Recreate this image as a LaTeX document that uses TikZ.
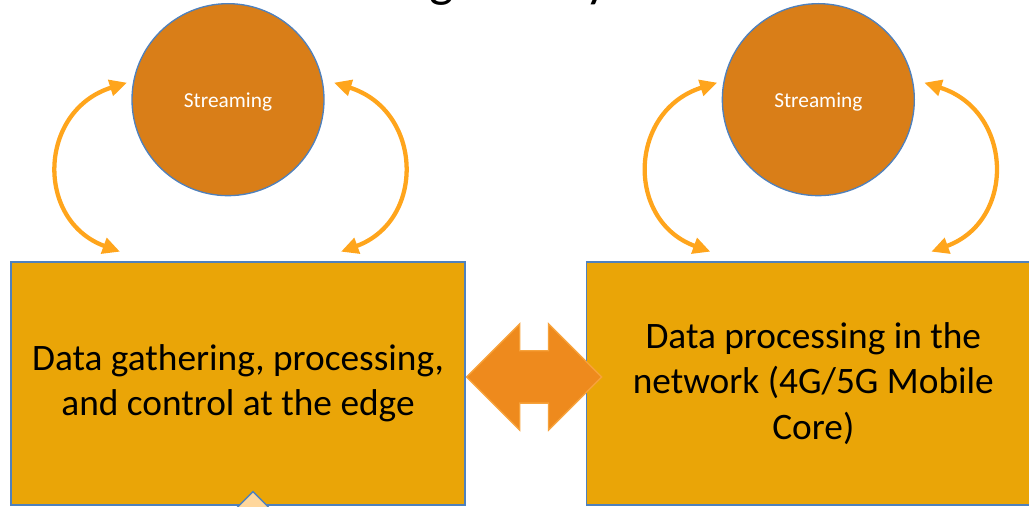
\documentclass[tikz,border=0pt]{standalone}
\usepackage{fontspec}
\setmainfont{Carlito}
\usetikzlibrary{positioning,shapes.arrows,arrows.meta}
\definecolor{boxfill}{HTML}{EAA507}
\definecolor{ballfill}{HTML}{D97E18}
\definecolor{rim}{HTML}{4F81BD}
\definecolor{arcorange}{HTML}{FFA51C}
\definecolor{linkfill}{HTML}{EE8A1D}
\definecolor{linkrim}{HTML}{F7A23A}
\definecolor{tipfill}{HTML}{FFD79C}
\tikzset{
	stage/.style={draw=rim,line width=1pt,fill=boxfill,minimum width=340.5pt,minimum height=182.25pt,align=center,font=\fontsize{28}{34}\selectfont},
	feed/.style={circle,draw=rim,line width=1pt,fill=ballfill,minimum size=144pt,inner sep=0pt,text depth=0pt,text=white,font=\fontsize{16}{19}\selectfont},
	feedarc/.style={arcorange,line width=3.2pt,{Triangle[length=13pt,width=12pt]}-{Triangle[length=13pt,width=12pt]}},
	twoway/.style={double arrow,draw=linkrim,line width=1pt,fill=linkfill,minimum height=101.25pt,minimum width=78.75pt,double arrow head extend=20.25pt,inner xsep=0pt,inner ysep=19.1pt}
}
\begin{document}
\begin{tikzpicture}[x=0.75pt,y=0.75pt]
		\useasboundingbox (0,0) rectangle (1029,507);
		\clip (0,0) rectangle (1029,507);
		\node [font=\fontsize{39}{47}\selectfont,anchor=base] (title) at (529,510) {Edge Analytics};
		\node [stage] (edge) at (238,123.5) {Data gathering, processing,\\and control at the edge};
		\node [stage,right=90pt of edge] (core) {Data processing in the\\network (4G/5G Mobile\\Core)};
		\node [feed,above=48.75pt of edge,xshift=-7.5pt] (edgestream) {Streaming};
		\node [feed,above=48.75pt of core,xshift=3.75pt] (corestream) {Streaming};
		\foreach \s in {edgestream,corestream}{
			\draw [feedarc] ([shift={(-101,17)}]\s.center) .. controls ([shift={(-190,-11)}]\s.center) and ([shift={(-193,-121)}]\s.center) .. ([shift={(-108,-152)}]\s.center);
			\draw [feedarc] ([shift={(106,17)}]\s.center) .. controls ([shift={(195,-11)}]\s.center) and ([shift={(198,-121)}]\s.center) .. ([shift={(113,-152)}]\s.center);
		}
		\node [twoway,right=0pt of edge,yshift=4.9pt] (link) {};
		\draw [rim,fill=tipfill,line width=1pt] ([shift={(15,14)}]edge.south) -- ++(-24,-24) -- ++(48,0) -- cycle;
\end{tikzpicture}
\end{document}
